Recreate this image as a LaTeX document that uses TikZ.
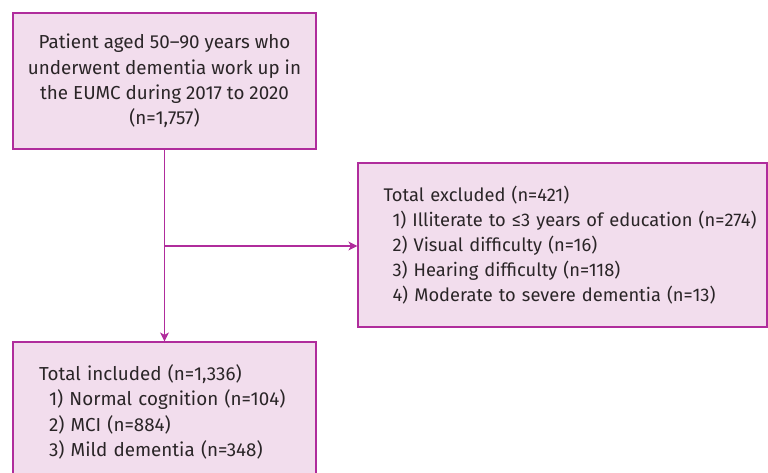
\documentclass[tikz,border=0pt]{standalone}
\usepackage{fontspec}
\setmainfont{Fira Sans}
\usetikzlibrary{arrows.meta}
\definecolor{bfill}{HTML}{F2DDED}
\definecolor{bline}{HTML}{B02C9C}
\definecolor{txt}{HTML}{2A2527}
\tikzset{
  box/.style={draw=bline, fill=bfill, line width=1.2pt, text=txt, inner sep=0pt,
    font=\fontsize{18.8}{25.2}\selectfont},
  conn/.style={draw=bline, line width=1.2pt, -{Stealth[length=9pt,width=9pt,inset=2.5pt]}}
}
\begin{document}
\begin{tikzpicture}[x=1pt,y=-1pt]
\clip (0,0) rectangle (768,472);
\useasboundingbox (0,0) rectangle (768,472);
\node[box, minimum width=303pt, minimum height=136pt, align=center] (b1) at (164.5,81)
  {Patient aged 50–90 years who\\underwent dementia work up in\\the EUMC during 2017 to 2020\\(n=1,757)};
\node[box, minimum width=409pt, minimum height=164pt, text width=400pt, align=left,
      font=\fontsize{18.3}{25}\selectfont] (b2) at (562.5,245)
  {\hspace*{21pt}\mbox{Total excluded (n=421)}\\
   \hspace*{30pt}\mbox{1) Illiterate to ≤3 years of education (n=274)}\\
   \hspace*{30pt}\mbox{2) Visual difficulty (n=16)}\\
   \hspace*{30pt}\mbox{3) Hearing difficulty (n=118)}\\
   \hspace*{30pt}\mbox{4) Moderate to severe dementia (n=13)}};
\node[box, minimum width=303pt, minimum height=140pt, text width=295pt, align=left] (b3) at (164.5,412)
  {\hspace*{22pt}Total included (n=1,336)\\
   \hspace*{32pt}1) Normal cognition (n=104)\\
   \hspace*{32pt}2) MCI (n=884)\\
   \hspace*{32pt}3) Mild dementia (n=348)};
\coordinate (j) at (164.5,246);
\draw[conn] (b1.south) -- (b3.north);
\draw[conn] (j) -- (j -| b2.west);
\end{tikzpicture}
\end{document}
